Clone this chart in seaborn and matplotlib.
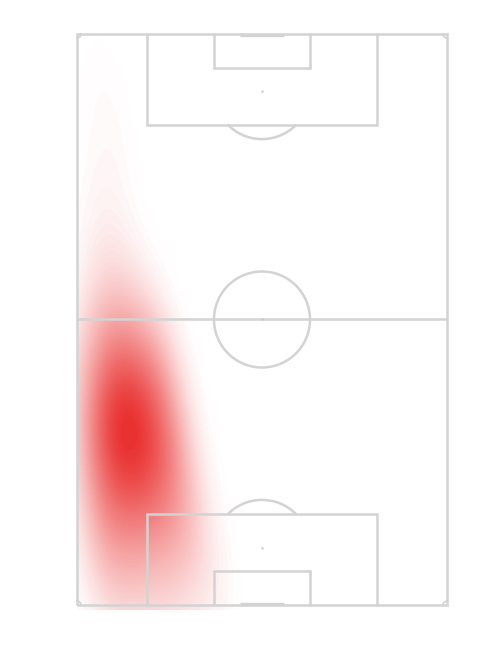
import numpy as np
import pandas as pd
import matplotlib
matplotlib.use("Agg")
import matplotlib.pyplot as plt
import seaborn as sns
from matplotlib.colors import LinearSegmentedColormap

# event locations (wyscout style 0-100, y=0 at bottom goal)
event_x = [7, 10, 6, 11, 8,
           8, 16, 12, 20, 5, 13, 21, 8, 14, 22, 5, 12, 17, 25, 9, 14, 20,
           4, 12, 17, 25, 8, 14, 21, 5, 12, 18, 27, 9, 16, 23, 5, 12, 20, 29,
           8, 16, 25, 5, 13, 22, 32, 9, 18, 29, 7, 16, 26, 37, 12, 23]
event_y = [90, 80, 70, 62, 55,
           48, 48, 44, 44, 41, 41, 41, 38, 38, 38, 35, 35, 35, 35, 32, 32, 32,
           30, 30, 30, 30, 28, 28, 28, 26, 26, 26, 26, 23, 23, 23, 20, 20, 20, 20,
           16, 16, 16, 12, 12, 12, 12, 8, 8, 8, 4, 4, 4, 4, 1, 1]
event_w = ([0.3, 0.3, 0.4, 0.5, 0.6] + [1.0] * 38 + [0.85] * 4
           + [0.7] * 3 + [0.6] * 4 + [0.5] * 2)

df = pd.DataFrame({"x": event_x, "y": event_y, "w": event_w})

line_col = "#d3d3d3"
lw = 1.8
sx = 3.70   # px per width unit
sy = 5.71   # px per length unit

fig = plt.figure(figsize=(5, 6.5), dpi=100)
ax = fig.add_axes([0, 0, 1, 1])

cmap = LinearSegmentedColormap.from_list("heat", ["#ffffff", "#e8302f"])
sns.kdeplot(data=df, x="x", y="y", weights="w", fill=True, levels=100, thresh=0.005, cmap=cmap,
            bw_adjust=1.3, cut=20, clip=((0, 100), (-0.8, 100)), ax=ax, zorder=1)

def seg(xs, ys, **kw):
    ax.plot(xs, ys, color=line_col, lw=kw.get("lw", lw), zorder=3,
            solid_capstyle="butt", solid_joinstyle="miter")

# outer lines + halfway
seg([0, 100, 100, 0, 0], [0, 0, 100, 100, 0])
seg([0, 100], [50, 50])

# boxes
for top in (False, True):
    def yy(v):
        return 100 - v if top else v
    seg([19, 19, 81, 81], [yy(0), yy(16), yy(16), yy(0)])
    seg([37, 37, 63, 63], [yy(0), yy(6), yy(6), yy(0)])
    seg([44, 56], [yy(0.25), yy(0.25)], lw=2.4)
    ax.scatter([50], [yy(10)], s=3, color="#c8c8c8", zorder=3, linewidths=0)
    # penalty arc outside the box
    t = np.linspace(0, 2 * np.pi, 400)
    rx, ry = 48 / sx, 48 / sy
    ax_ = 50 + rx * np.cos(t)
    ay_ = yy(10) + ry * np.sin(t)
    mask = (ay_ > 16) & (ay_ < 84)
    ax.plot(np.where(mask, ax_, np.nan), np.where(mask, ay_, np.nan),
            color=line_col, lw=lw, zorder=3)

# centre circle and spot
t = np.linspace(0, 2 * np.pi, 400)
ax.plot(50 + 48 / sx * np.cos(t), 50 + 48 / sy * np.sin(t), color=line_col, lw=lw, zorder=3)
ax.scatter([50], [50], s=3, color="#c8c8c8", zorder=3, linewidths=0)

# corner arcs
rc = 4
for cx, cy, a0 in [(0, 0, 0), (100, 0, 90), (100, 100, 180), (0, 100, 270)]:
    tt = np.radians(np.linspace(a0, a0 + 90, 20))
    ax.plot(cx + rc / sx * np.cos(tt), cy + rc / sy * np.sin(tt), color=line_col, lw=1.2, zorder=3)

ax.set_xlim(-77 / sx, (500 - 77) / sx)
ax.set_ylim(-(650 - 605) / sy, 605 / sy)
ax.axis("off")

fig.savefig("out.png", dpi=100)
